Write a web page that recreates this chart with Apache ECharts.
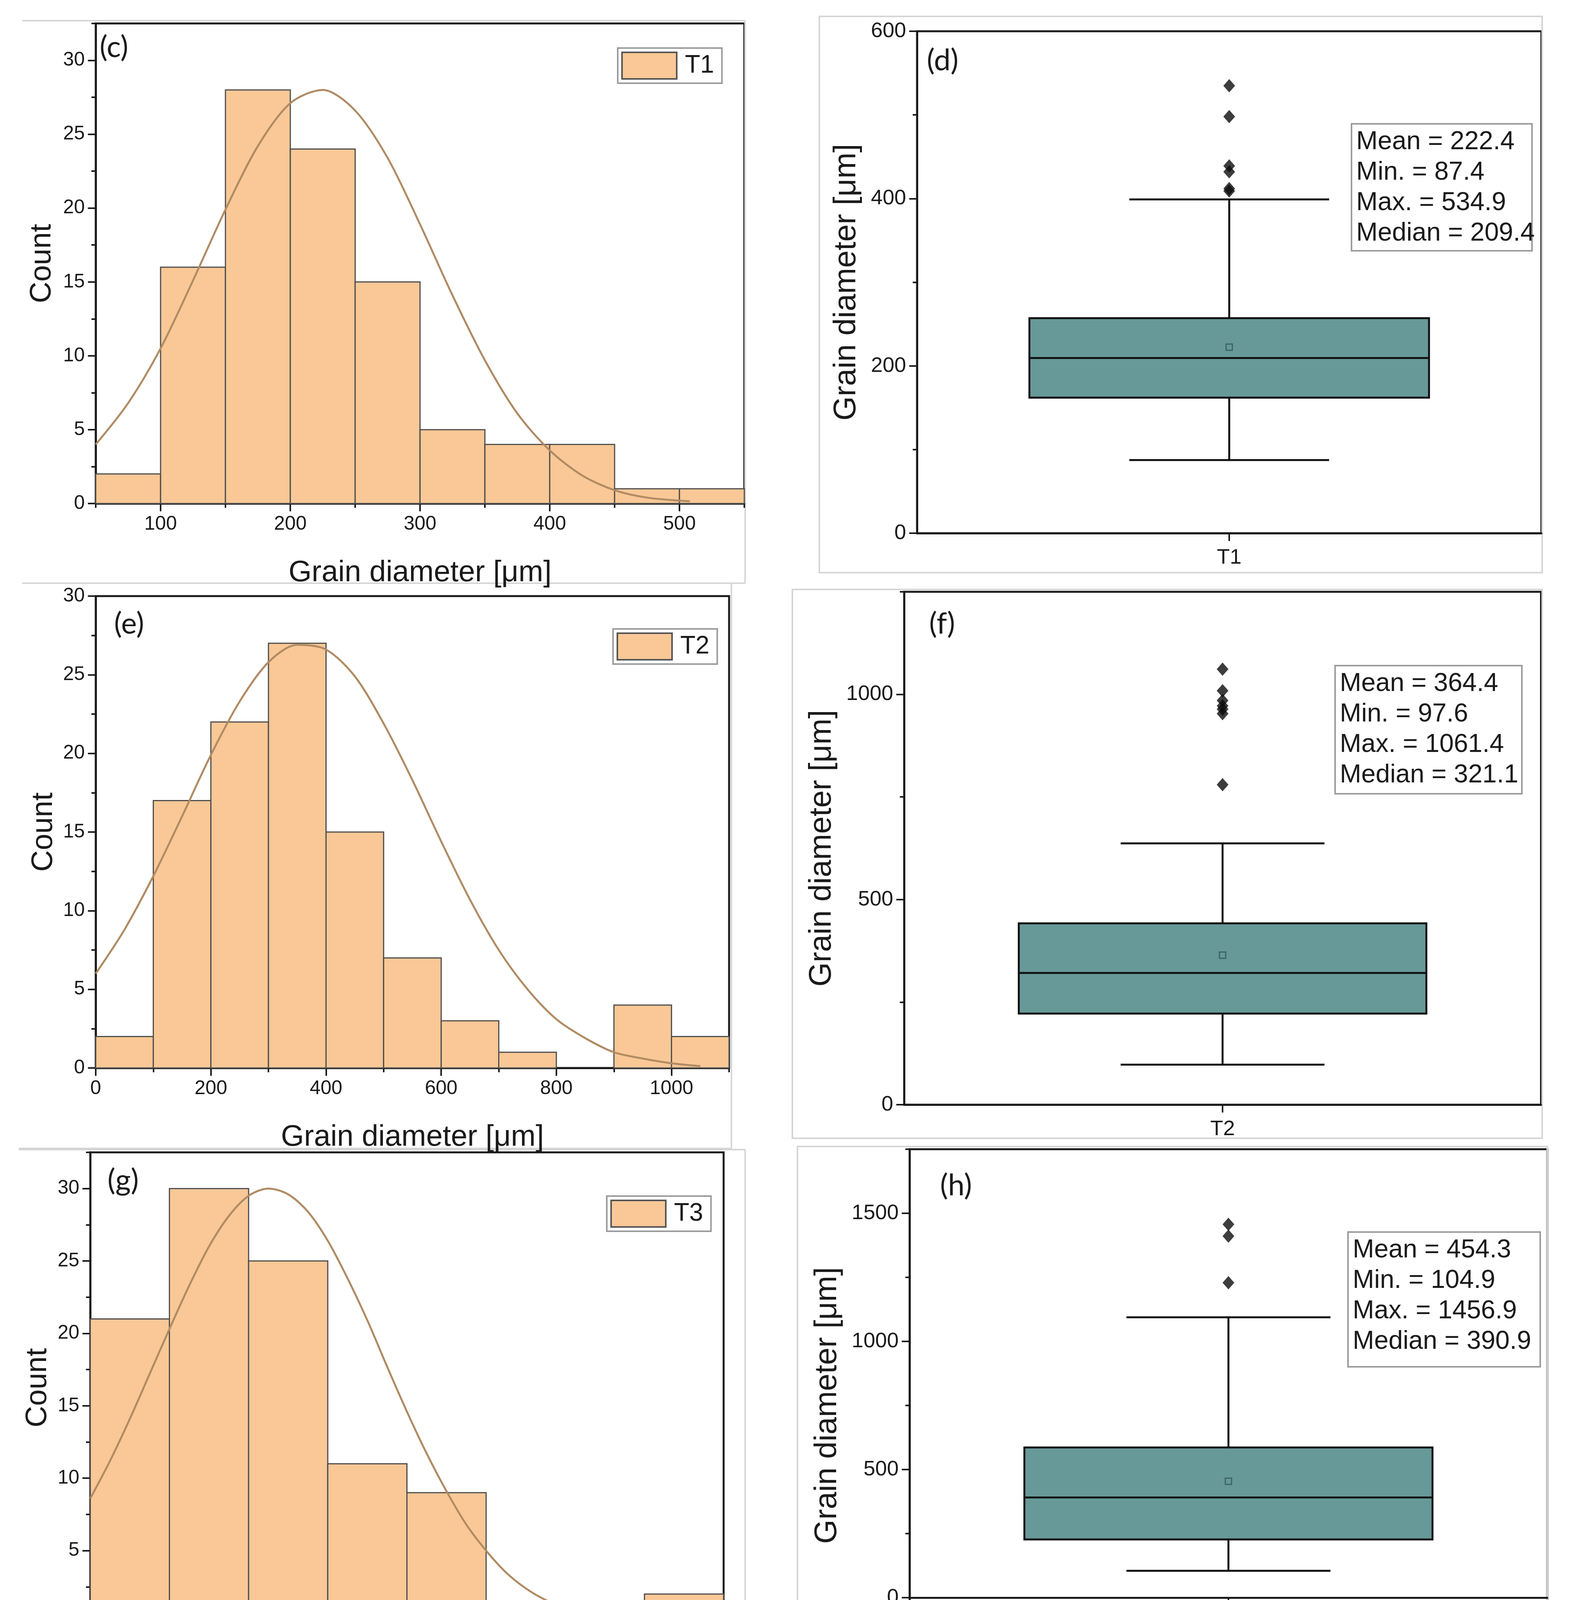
<!DOCTYPE html>
<html>
<head>
<meta charset="UTF-8">
<title>Grain diameter distributions</title>
<script src="https://cdn.jsdelivr.net/npm/echarts@6/dist/echarts.min.js"></script>
<style>
  html, body { margin: 0; padding: 0; background: #fff; }
  #chart { width: 4031px; height: 5837px; }
</style>
</head>
<body>
<div id="chart"></div>
<script>
// ---- histogram data (bin edges, counts, fitted curve) ----
var binsT1 = [50, 100, 150, 200, 250, 300, 350, 400, 450, 500, 550];
var countT1 = [2, 16, 28, 24, 15, 5, 4, 4, 1, 1];
var fitXT1 = [50, 75, 100, 125, 150, 175, 200, 225, 250, 275, 300, 325, 350, 375, 400, 425, 450, 475, 508];
var fitYT1 = [4.0, 6.8, 10.5, 15.1, 19.9, 24.2, 27.1, 28.0, 26.6, 23.4, 18.9, 14.1, 9.7, 6.1, 3.6, 1.9, 0.9, 0.4, 0.15];

var binsT2 = [0, 100, 200, 300, 400, 500, 600, 700, 800, 900, 1000, 1100];
var countT2 = [2, 17, 22, 27, 15, 7, 3, 1, 0, 4, 2];
var fitXT2 = [0, 50, 100, 150, 200, 250, 300, 350, 400, 450, 500, 550, 600, 650, 700, 750, 800, 850, 900, 950, 1000, 1050];
var fitYT2 = [6.0, 8.8, 12.2, 16.0, 19.9, 23.3, 25.8, 26.9, 26.6, 24.9, 21.9, 18.3, 14.4, 10.7, 7.5, 5.0, 3.1, 1.9, 1.0, 0.6, 0.3, 0.12];

var binsT3 = [0, 200, 400, 600, 800, 1000, 1200, 1400, 1600];
var countT3 = [21, 30, 25, 11, 9, 1, 1, 2];
var fitXT3 = [0, 50, 100, 150, 200, 250, 300, 350, 400, 450, 500, 550, 600, 650, 700, 750, 800, 850, 900, 950, 1000, 1050, 1100, 1150, 1200, 1250, 1300, 1350, 1390];
var fitYT3 = [8.6, 11.2, 14.1, 17.2, 20.3, 23.3, 26.0, 28.1, 29.5, 30.0, 29.6, 28.4, 26.4, 23.8, 20.9, 17.7, 14.6, 11.7, 9.1, 6.8, 5.0, 3.5, 2.4, 1.6, 1.1, 0.66, 0.4, 0.24, 0.15];

var binsT4 = [0, 200, 400, 600, 800, 1000, 1200, 1400, 1600, 1800, 2000];
var countT4 = [22, 33, 20, 15, 3, 3, 2, 0, 2, 0];
var fitXT4 = [0, 50, 100, 150, 200, 250, 300, 350, 400, 450, 500, 550, 600, 650, 700, 750, 800, 850, 900, 950, 1000, 1050, 1100, 1150, 1200, 1250, 1300, 1350, 1400, 1450, 1515];
var fitYT4 = [12.3, 15.0, 18.0, 21.1, 24.1, 26.9, 29.3, 31.2, 32.5, 33.0, 32.7, 31.7, 30.0, 27.7, 25.0, 22.1, 19.0, 16.0, 13.1, 10.5, 8.3, 6.3, 4.7, 3.4, 2.5, 1.7, 1.2, 0.8, 0.5, 0.3, 0.17];

// ---- box plot data: [lower whisker, Q1, median, Q3, upper whisker] ----
var boxT1 = [87.4, 162, 209.4, 257, 399];
var meanT1 = 222.4;
var outT1 = [534.9, 498, 439, 432, 412, 409];
var boxT2 = [97.6, 222, 321.1, 442, 637];
var meanT2 = 364.4;
var outT2 = [1061.4, 1009, 985, 972, 964, 953, 780];
var boxT3 = [104.9, 227, 390.9, 586, 1094];
var meanT3 = 454.3;
var outT3 = [1456.9, 1411, 1229];
var boxT4 = [66.5, 226, 363.3, 599, 1159];
var meanT4 = 458.0;
var outT4 = [1791.8, 1622, 1385, 1279];

var statsT1 = ['Mean = 222.4', 'Min. = 87.4', 'Max. = 534.9', 'Median = 209.4'];
var statsT2 = ['Mean = 364.4', 'Min. = 97.6', 'Max. = 1061.4', 'Median = 321.1'];
var statsT3 = ['Mean = 454.3', 'Min. = 104.9', 'Max. = 1456.9', 'Median = 390.9'];
var statsT4 = ['Mean = 458.0', 'Min. = 66.5', 'Max. = 1791.8', 'Median = 363.3'];

// ---- tick labels ----
var xTickT1 = [100, 200, 300, 400, 500];
var xMinorT1 = [50, 150, 250, 350, 450, 550];
var xTickT2 = [0, 200, 400, 600, 800, 1000];
var xMinorT2 = [100, 300, 500, 700, 900, 1100];
var xTickT3 = [0, 200, 400, 600, 800, 1000, 1200, 1400, 1600];
var xMinorT3 = [100, 300, 500, 700, 900, 1100, 1300, 1500];
var xTickT4 = [0, 200, 400, 600, 800, 1000, 1200, 1400, 1600, 1800, 2000];
var xMinorT4 = [100, 300, 500, 700, 900, 1100, 1300, 1500, 1700, 1900];
var cTick30 = [0, 5, 10, 15, 20, 25, 30];
var cTick35 = [0, 5, 10, 15, 20, 25, 30, 35];
var cMinor30 = [2.5, 7.5, 12.5, 17.5, 22.5, 27.5];
var cMinor325 = [2.5, 7.5, 12.5, 17.5, 22.5, 27.5, 32.5];
var cMinor375 = [2.5, 7.5, 12.5, 17.5, 22.5, 27.5, 32.5, 37.5];
var dTickT1 = [0, 200, 400, 600];
var dMinorT1 = [100, 300, 500];
var dTickT2 = [0, 500, 1000];
var dMinorT2 = [250, 750, 1250];
var dTickT3 = [0, 500, 1000, 1500];
var dMinorT3 = [-250, 250, 750, 1250, 1750];
var dTickT4 = [0, 500, 1000, 1500, 2000];
var dMinorT4 = [-250, 250, 750, 1250, 1750];

var FONT = '"Liberation Sans", Arial, sans-serif';
var INK = '#1a1a1a';
var BAR_FILL = '#F9C896';
var BAR_EDGE = '#4d4d4d';
var FIT = '#B08B64';
var BOX_FILL = '#679999';
var XNAME = 'Grain diameter [\u03bcm]';

var hists = [
  {name: 'T1', tag: '(c)', bins: binsT1, counts: countT1, fx: fitXT1, fy: fitYT1,
   xmin: 50, xmax: 550, xt: xTickT1, xm: xMinorT1, ymax: 32.5, yt: cTick30, ym: cMinor325,
   grid: {left: 245, top: 60, width: 1660, height: 1229}, legend: [1581, 123], tagPos: [255, 129], yGap: 99},
  {name: 'T2', tag: '(e)', bins: binsT2, counts: countT2, fx: fitXT2, fy: fitYT2,
   xmin: 0, xmax: 1100, xt: xTickT2, xm: xMinorT2, ymax: 30, yt: cTick30, ym: cMinor30,
   grid: {left: 245, top: 1526, width: 1621, height: 1208}, legend: [1569, 1610], tagPos: [292, 1605], yGap: 95},
  {name: 'T3', tag: '(g)', bins: binsT3, counts: countT3, fx: fitXT3, fy: fitYT3,
   xmin: 0, xmax: 1600, xt: xTickT3, xm: xMinorT3, ymax: 32.5, yt: cTick30, ym: cMinor325,
   grid: {left: 231, top: 2950, width: 1621, height: 1205}, legend: [1553, 3062], tagPos: [275, 3030], yGap: 96},
  {name: 'T4', tag: '(i)', bins: binsT4, counts: countT4, fx: fitXT4, fy: fitYT4,
   xmin: 0, xmax: 2000, xt: xTickT4, xm: xMinorT4, ymax: 37.5, yt: cTick35, ym: cMinor375,
   grid: {left: 231, top: 4385, width: 1619, height: 1208}, legend: [1554, 4461], tagPos: [287, 4460], yGap: 93}
];

var boxes = [
  {name: 'T1', tag: '(d)', box: boxT1, mean: meanT1, out: outT1, stats: statsT1,
   ymin: 0, ymax: 600, yt: dTickT1, ym: dMinorT1,
   grid: {left: 2347, top: 80, width: 1598, height: 1285}, statBox: [3457, 315, 462, 325], tagPos: [2372, 163], yGap: 140},
  {name: 'T2', tag: '(f)', box: boxT2, mean: meanT2, out: outT2, stats: statsT2,
   ymin: 0, ymax: 1250, yt: dTickT2, ym: dMinorT2,
   grid: {left: 2314, top: 1515, width: 1630, height: 1313}, statBox: [3415, 1702, 478, 328], tagPos: [2378, 1605], yGap: 170},
  {name: 'T3', tag: '(h)', box: boxT3, mean: meanT3, out: outT3, stats: statsT3,
   ymin: -250, ymax: 1750, yt: dTickT3, ym: dMinorT3,
   grid: {left: 2328, top: 2942, width: 1632, height: 1312}, statBox: [3448, 3152, 492, 345], tagPos: [2406, 3043], yGap: 170},
  {name: 'T4', tag: '(j)', box: boxT4, mean: meanT4, out: outT4, stats: statsT4,
   ymin: -250, ymax: 2000, yt: dTickT4, ym: dMinorT4,
   grid: {left: 2358, top: 4400, width: 1600, height: 1290}, statBox: [3460, 4555, 486, 340], tagPos: [2418, 4498], yGap: 165}
];

var grids = [], xAxes = [], yAxes = [], series = [], legends = [], graphics = [];

function plain(v) { return String(v); }

function valueAxis(gi, pos, min, max, ticks, fontSize, extra) {
  var a = {
    type: 'value', gridIndex: gi, position: pos, min: min, max: max,
    axisLine: {show: true, onZero: false, lineStyle: {color: INK, width: 5}},
    axisTick: {show: true, customValues: ticks, length: 20, lineStyle: {color: INK, width: 4}},
    axisLabel: {customValues: ticks, formatter: plain, fontSize: fontSize, fontFamily: FONT, color: INK, margin: 28},
    splitLine: {show: false}
  };
  for (var k in extra) a[k] = extra[k];
  return a;
}
function minorAxis(gi, pos, min, max, ticks) {
  return {
    type: 'value', gridIndex: gi, position: pos, min: min, max: max,
    axisLine: {show: false},
    axisTick: {show: true, customValues: ticks, length: 11, lineStyle: {color: INK, width: 4}},
    axisLabel: {show: false}, splitLine: {show: false}
  };
}
function nameOpts(name, gap, size) {
  return {name: name, nameLocation: 'middle', nameGap: gap,
    nameTextStyle: {fontSize: size, fontFamily: FONT, color: INK}};
}
function tagText(t, pos) {
  return {type: 'text', left: pos[0], top: pos[1] - 46, z: 50,
    style: {text: t, fontSize: 76, fontFamily: 'Lato, "Liberation Sans", sans-serif', fill: INK}};
}

function histItem(params, api) {
  var n = api.value(2);
  if (!n) return {type: 'group', children: []};
  var a = api.coord([api.value(0), n]);
  var b = api.coord([api.value(1), 0]);
  return {type: 'rect', shape: {x: a[0], y: a[1], width: b[0] - a[0], height: b[1] - a[1]},
    style: {fill: BAR_FILL, stroke: BAR_EDGE, lineWidth: 3}};
}

function boxItem(params, api) {
  var cx = api.coord([0, api.value(3)])[0];
  var band = api.size([1, 0])[0];
  var hw = band * 0.32, cw = band * 0.16;
  function y(k) { return api.coord([0, api.value(k)])[1]; }
  var lo = y(1), q1 = y(2), md = y(3), q3 = y(4), hi = y(5);
  var ln = {stroke: '#111', lineWidth: 5};
  return {type: 'group', children: [
    {type: 'line', shape: {x1: cx, y1: hi, x2: cx, y2: q3}, style: ln},
    {type: 'line', shape: {x1: cx, y1: q1, x2: cx, y2: lo}, style: ln},
    {type: 'line', shape: {x1: cx - cw, y1: hi, x2: cx + cw, y2: hi}, style: ln},
    {type: 'line', shape: {x1: cx - cw, y1: lo, x2: cx + cw, y2: lo}, style: ln},
    {type: 'rect', shape: {x: cx - hw, y: q3, width: 2 * hw, height: q1 - q3},
      style: {fill: BOX_FILL, stroke: '#111', lineWidth: 5}},
    {type: 'line', shape: {x1: cx - hw, y1: md, x2: cx + hw, y2: md}, style: ln}
  ]};
}

var frame = {show: true, borderColor: INK, borderWidth: 5, backgroundColor: '#fff'};

hists.forEach(function (h) {
  var gi = grids.length;
  grids.push(Object.assign({}, h.grid, frame));
  var xi = xAxes.length, yi = yAxes.length;
  xAxes.push(valueAxis(gi, 'bottom', h.xmin, h.xmax, h.xt, 50, nameOpts(XNAME, 140, 76)));
  xAxes.push(minorAxis(gi, 'bottom', h.xmin, h.xmax, h.xm));
  yAxes.push(valueAxis(gi, 'left', 0, h.ymax, h.yt, 50, nameOpts('Count', h.yGap, 76)));
  yAxes.push(minorAxis(gi, 'left', 0, h.ymax, h.ym));

  var binData = [];
  for (var k = 0; k < h.counts.length; k++) binData.push([h.bins[k], h.bins[k + 1], h.counts[k]]);
  series.push({type: 'custom', name: h.name, xAxisIndex: xi, yAxisIndex: yi, data: binData,
    encode: {x: [0, 1], y: 2}, renderItem: histItem, z: 2, silent: true});

  var fit = h.fx.map(function (x, k) { return [x, h.fy[k]]; });
  series.push({type: 'line', name: h.name + ' fit', xAxisIndex: xi, yAxisIndex: yi, data: fit,
    smooth: 0.3, showSymbol: false, lineStyle: {color: FIT, width: 5}, z: 3, silent: true});

  legends.push({
    data: [{name: h.name, icon: 'rect', itemStyle: {color: BAR_FILL, borderColor: '#555', borderWidth: 4}}],
    left: h.legend[0], top: h.legend[1], orient: 'vertical',
    itemWidth: 140, itemHeight: 68, padding: [9, 20, 9, 9],
    borderColor: '#9c9c9c', borderWidth: 4, backgroundColor: '#fff', selectedMode: false,
    textStyle: {fontSize: 64, fontFamily: FONT, color: INK, padding: [0, 0, 0, 16]}
  });
  graphics.push(tagText(h.tag, h.tagPos));
});

boxes.forEach(function (b) {
  var gi = grids.length;
  grids.push(Object.assign({}, b.grid, frame));
  var xi = xAxes.length, yi = yAxes.length;
  xAxes.push({type: 'category', gridIndex: gi, position: 'bottom', data: [b.name],
    axisLine: {show: true, lineStyle: {color: INK, width: 5}},
    axisTick: {show: true, alignWithLabel: true, length: 20, lineStyle: {color: INK, width: 4}},
    axisLabel: {fontSize: 54, fontFamily: FONT, color: INK, margin: 36}});
  yAxes.push(valueAxis(gi, 'left', b.ymin, b.ymax, b.yt, 54, nameOpts(XNAME, b.yGap, 80)));
  yAxes.push(minorAxis(gi, 'left', b.ymin, b.ymax, b.ym));

  series.push({type: 'custom', name: b.name + ' box', xAxisIndex: xi, yAxisIndex: yi,
    data: [[0].concat(b.box)], encode: {x: 0, y: [1, 2, 3, 4, 5]}, renderItem: boxItem, z: 2, silent: true});
  series.push({type: 'scatter', name: b.name + ' mean', xAxisIndex: xi, yAxisIndex: yi,
    data: [[0, b.mean]], symbol: 'rect', symbolSize: 16, z: 4, silent: true,
    itemStyle: {color: 'rgba(0,0,0,0)', borderColor: '#2d5656', borderWidth: 3}});
  series.push({type: 'scatter', name: b.name + ' outliers', xAxisIndex: xi, yAxisIndex: yi,
    data: b.out.map(function (v) { return [0, v]; }), symbol: 'diamond', symbolSize: [30, 34], z: 4, silent: true,
    itemStyle: {color: '#0d0d0d'}});

  var s = b.statBox;
  graphics.push({type: 'group', left: s[0], top: s[1], z: 50, children: [
    {type: 'rect', shape: {x: 0, y: 0, width: s[2], height: s[3]},
      style: {fill: '#fff', stroke: '#9c9c9c', lineWidth: 4}},
    {type: 'text', x: 12, y: 8, style: {text: b.stats.join('\n'), fontSize: 66, lineHeight: 78,
      fontFamily: FONT, fill: INK}}
  ]});
  graphics.push(tagText(b.tag, b.tagPos));
});

// light grey sub-figure borders
var edge = {stroke: '#d6d6d6', lineWidth: 4};
var borderLines = [
  [57, 53, 1907, 53], [1907, 53, 1907, 1493], [57, 1493, 1907, 1493],
  [1872, 1493, 1872, 2940], [48, 2940, 1872, 2940],
  [48, 2943, 1907, 2943], [1907, 2943, 1907, 4350], [48, 4350, 1907, 4350],
  [48, 4380, 1907, 4380], [1907, 4380, 1907, 5789], [48, 5789, 1907, 5789]
];
borderLines.forEach(function (l) {
  graphics.push({type: 'line', z: 0, shape: {x1: l[0], y1: l[1], x2: l[2], y2: l[3]}, style: edge});
});
var borderRects = [[2097, 42, 1850, 1424], [2028, 1509, 1919, 1405], [2041, 2935, 1919, 1423], [2078, 4361, 1882, 1423]];
borderRects.forEach(function (r) {
  graphics.push({type: 'rect', z: 0, shape: {x: r[0], y: r[1], width: r[2], height: r[3]},
    style: {fill: 'none', stroke: '#d6d6d6', lineWidth: 4}});
});

var chart = echarts.init(document.getElementById('chart'), null, {renderer: 'canvas'});
chart.setOption({
  animation: false,
  backgroundColor: '#fff',
  grid: grids,
  xAxis: xAxes,
  yAxis: yAxes,
  legend: legends,
  series: series,
  graphic: graphics
});
</script>
</body>
</html>
